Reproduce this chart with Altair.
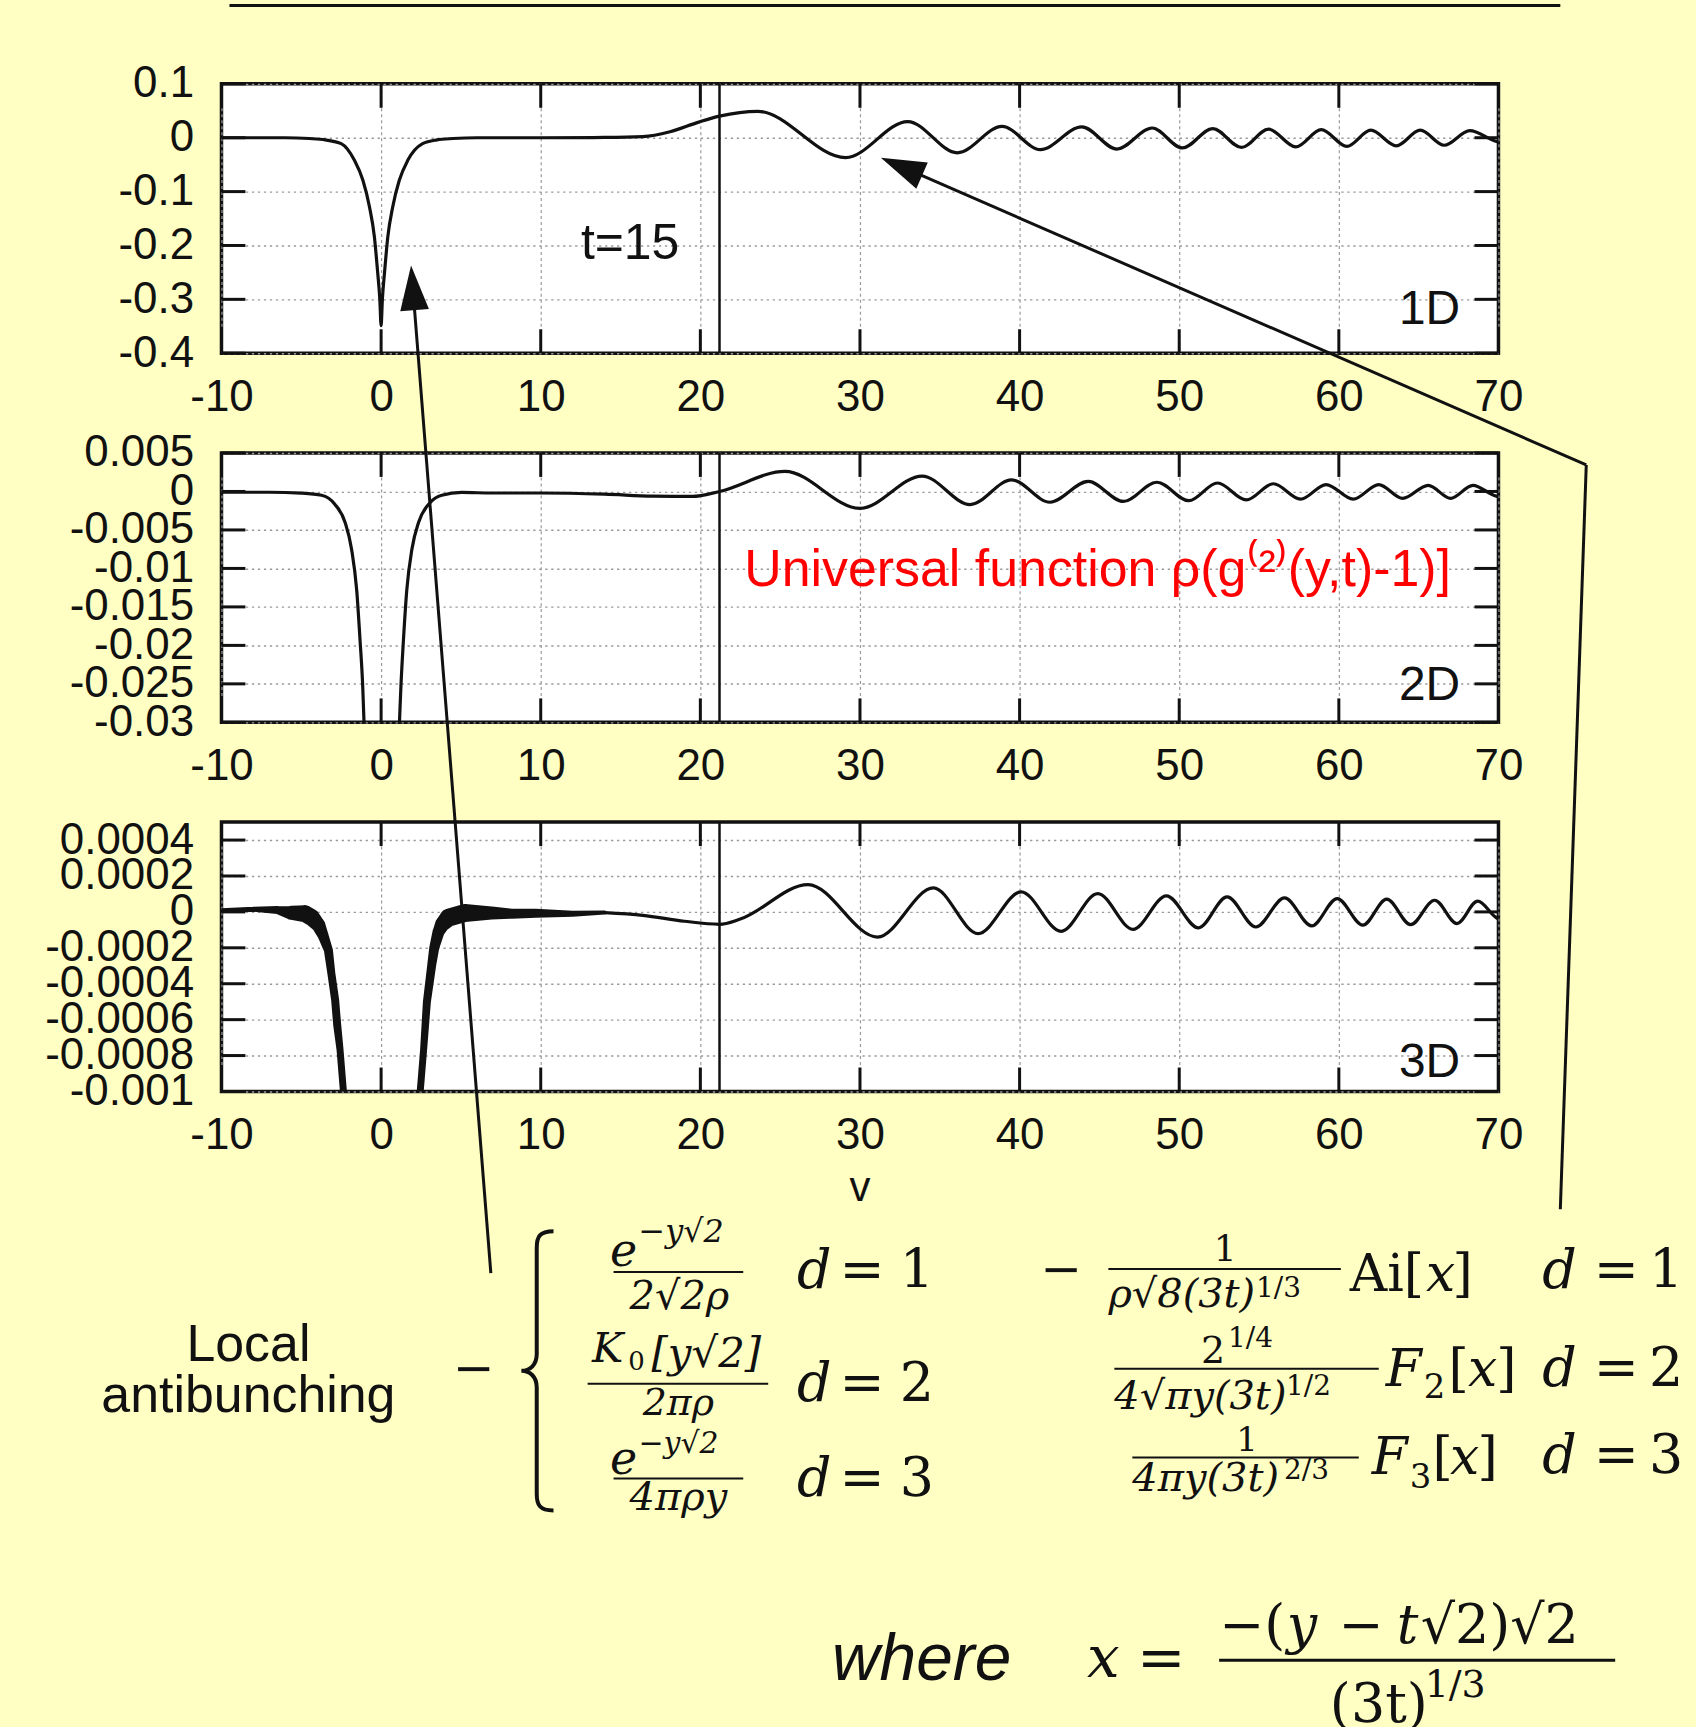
import altair as alt
import pandas as pd

BG = "#FFFFC4"
INK = "#111111"
SANS = "Liberation Sans"
SERIF = "DejaVu Serif"

PW, PH = 1280, 270          # plot area of each panel
P3X, P3Y = 220, 820         # page position of panel 3 (annotation origin)

X_TICKS = [-10, 0, 10, 20, 30, 40, 50, 60, 70]
X_DOMAIN = [-10, 70]
VLINE_X = 21.2

# ---------------- 1D ----------------
Y1_TICKS = [0.1, 0, -0.1, -0.2, -0.3, -0.4]
Y1_DOMAIN = [-0.4, 0.1]
X1 = [-10, -6, -4.5, -3.5, -2.5, -1.67, -1.14, -0.73, -0.42, -0.21, -0.08, 0, 0.08, 0.21, 0.42,
      0.73, 1.14, 1.67, 2.6, 3.5, 4.5, 6, 10, 14, 16.4, 18.1, 19.9, 21.2, 23.6, 29.1,
      33.0, 36.1, 38.9, 41.3, 43.9, 46.1, 48.3, 50.2, 52.1, 53.9, 55.6, 57.3, 58.9, 60.5, 62.0,
      63.6, 65.1, 66.6, 68.2, 69.7, 70]
V1 = [0, 0, -0.0015, -0.004, -0.011, -0.042, -0.079, -0.128, -0.184, -0.252, -0.30, -0.349, -0.30, -0.252, -0.184,
      -0.128, -0.079, -0.042, -0.011, -0.004, -0.0015, 0, 0, 0.0005, 0.002, 0.011, 0.029, 0.040, 0.049, -0.037,
      0.030, -0.028, 0.021, -0.022, 0.020, -0.021, 0.018, -0.019, 0.017, -0.018, 0.016, -0.017, 0.015, -0.016, 0.014,
      -0.015, 0.014, -0.014, 0.013, -0.005, -0.008]

# ---------------- 2D ----------------
Y2_TICKS = [0.005, 0, -0.005, -0.01, -0.015, -0.02, -0.025, -0.03]
Y2_DOMAIN = [-0.03, 0.005]
X2L = [-10, -7, -5, -3.73, -2.9, -2.26, -1.85, -1.53, -1.32, -1.15, -1.07, -0.95]
V2L = [-0.0001, -0.0001, -0.00022, -0.0005, -0.00166, -0.0040, -0.0075, -0.0128, -0.0193, -0.0254, -0.0300, -0.040]
X2R = [0.95, 1.15, 1.24, 1.40, 1.61, 1.93, 2.35, 3.08, 3.8, 5.05, 7, 10, 14, 17, 19.5,
       21.2, 25.3, 30.0, 33.9, 36.9, 39.5, 41.9, 44.3, 46.5, 48.6, 50.6, 52.4, 54.2, 55.9, 57.6,
       59.2, 60.9, 62.5, 64.0, 65.6, 67.0, 68.4, 69.7, 70]
V2R = [-0.040, -0.0300, -0.0254, -0.0193, -0.0128, -0.0075, -0.0040, -0.00144, -0.0005, -0.00013, -0.0002, -0.0002, -0.00035, -0.0006, -0.00065,
       0, 0.0026, -0.0022, 0.0020, -0.0017, 0.0015, -0.0014, 0.0013, -0.0013, 0.0012, -0.0012, 0.0011, -0.0011, 0.0010, -0.0010,
       0.0009, -0.0010, 0.0009, -0.0009, 0.0008, -0.0009, 0.0008, -0.0005, -0.0007]

# ---------------- 3D ----------------
Y3_TICKS = [0.0004, 0.0002, 0, -0.0002, -0.0004, -0.0006, -0.0008, -0.001]
Y3_DOMAIN = [-0.001, 0.0005]
# noisy band near the dip (value, band width in px)
X3L = [-10, -8, -6.5, -5.63, -4.77, -4.37, -3.93, -3.64, -3.3, -3.12, -2.88, -2.75, -2.57, -2.36, -2.2]
V3L = [0.000009, 0.000015, 0.00001, -0.000005, -0.00001, -0.00003, -0.0000725, -0.00013, -0.000214, -0.00034,
       -0.00049, -0.00063, -0.00077, -0.00100, -0.0012]
W3L = [4, 5, 8, 14, 17, 17, 14, 11, 9, 8, 8, 8, 7, 7, 7]
X3R = [2.2, 2.45, 2.66, 2.87, 3.18, 3.33, 3.6, 3.85, 4.23, 5.27, 6.94, 8.19, 9.7, 12, 14]
V3R = [-0.0012, -0.0010, -0.00077, -0.0005, -0.00029, -0.0002, -0.00011, -0.000067, -0.000032, -0.000006,
       -0.000006, -0.00001, -0.000008, -0.00001, -0.000004]
W3R = [7, 7, 7, 8, 9, 10, 12, 15, 18, 18, 13, 10, 9, 6, 4]
X3O = [14, 16.4, 19, 21.2, 22.5, 26.75, 31.1, 34.6, 37.4, 40.1, 42.6, 44.9, 47.1, 49.2, 51.2,
       53.0, 54.8, 56.6, 58.3, 59.9, 61.5, 63.0, 64.5, 66.0, 67.4, 68.7, 69.8, 70]
V3O = [-0.000004, -0.000019, -0.000052, -0.000069, -0.00004, 0.000152, -0.00014, 0.000134, -0.000121, 0.000112,
       -0.000108, 0.000102, -0.000097, 0.000089, -0.000089, 0.000084, -0.000084, 0.000078, -0.000078, 0.000074,
       -0.000074, 0.000071, -0.000071, 0.000065, -0.000065, 0.00006, -0.000028, -0.00004]

# ---------------- in-panel labels (data coordinates) ----------------
LBL1 = [("t=15", 15.6, -0.225, 50, "center", INK), ("1D", 67.6, -0.346, 48, "right", INK)]
LBL2 = [("2D", 67.6, -0.0271, 48, "right", INK),
        ("Universal function ρ(g⁽²⁾(y,t)-1)]", 22.75, -0.01224, 52, "left", "#ff0000")]
LBL3 = [("3D", 67.6, -0.000917, 48, "right", INK)]

# ---------------- page annotations (page pixel coordinates) ----------------
N, I = "normal", "italic"
TEXTS = [
    ("v", 860, 1200, 42, SANS, N, "center"),
    ("Local", 247, 1360, 52, SANS, N, "center"),
    ("antibunching", 247, 1411, 52, SANS, N, "center"),
    ("where", 832, 1680, 66, SANS, I, "left"),
    # left block
    ("−", 473, 1384, 50, SERIF, N, "center"),
    ("e", 623, 1265, 46, SERIF, I, "center"),
    ("−y√2", 638, 1241, 32, SERIF, I, "left"),
    ("2√2ρ", 679, 1308, 40, SERIF, I, "center"),
    ("K", 607, 1361, 42, SERIF, I, "center"),
    ("0", 636, 1369, 26, SERIF, N, "center"),
    ("[y√2]", 706, 1366, 42, SERIF, I, "center"),
    ("2πρ", 678, 1414, 38, SERIF, I, "center"),
    ("e", 623, 1473, 46, SERIF, I, "center"),
    ("−y√2", 638, 1452, 30, SERIF, I, "left"),
    ("4πρy", 678, 1510, 40, SERIF, I, "center"),
    ("d", 797, 1287, 54, SERIF, I, "left"), ("=", 862, 1287, 54, SERIF, N, "center"), ("1", 917, 1287, 54, SERIF, N, "center"),
    ("d", 797, 1400, 54, SERIF, I, "left"), ("=", 862, 1400, 54, SERIF, N, "center"), ("2", 917, 1400, 54, SERIF, N, "center"),
    ("d", 797, 1495, 54, SERIF, I, "left"), ("=", 862, 1495, 54, SERIF, N, "center"), ("3", 917, 1495, 54, SERIF, N, "center"),
    # right block, row 1
    ("−", 1062, 1285, 50, SERIF, N, "center"),
    ("1", 1226, 1260, 36, SERIF, N, "center"),
    ("ρ√8(3t)", 1109, 1306, 40, SERIF, I, "left"),
    ("1/3", 1257, 1296, 28, SERIF, N, "left"),
    ("Ai[", 1351, 1290, 52, SERIF, N, "left"),
    ("x", 1442, 1290, 52, SERIF, I, "center"),
    ("]", 1464, 1290, 52, SERIF, N, "center"),
    # row 2
    ("2", 1214, 1362, 38, SERIF, N, "center"),
    ("1/4", 1229, 1346, 28, SERIF, N, "left"),
    ("4√πy(3t)", 1115, 1408, 40, SERIF, I, "left"),
    ("1/2", 1287, 1394, 28, SERIF, N, "left"),
    ("F", 1405, 1385, 52, SERIF, I, "center"),
    ("2", 1436, 1397, 34, SERIF, N, "center"),
    ("[", 1460, 1385, 52, SERIF, N, "center"),
    ("x", 1484, 1385, 52, SERIF, I, "center"),
    ("]", 1508, 1385, 52, SERIF, N, "center"),
    # row 3
    ("1", 1248, 1450, 34, SERIF, N, "center"),
    ("4πy(3t)", 1133, 1490, 40, SERIF, I, "left"),
    ("2/3", 1285, 1478, 28, SERIF, N, "left"),
    ("F", 1391, 1473, 52, SERIF, I, "center"),
    ("3", 1422, 1487, 34, SERIF, N, "center"),
    ("[", 1444, 1473, 52, SERIF, N, "center"),
    ("x", 1466, 1473, 52, SERIF, I, "center"),
    ("]", 1489, 1473, 52, SERIF, N, "center"),
    ("d", 1544, 1287, 54, SERIF, I, "left"), ("=", 1618, 1287, 54, SERIF, N, "center"), ("1", 1668, 1287, 54, SERIF, N, "center"),
    ("d", 1544, 1385, 54, SERIF, I, "left"), ("=", 1618, 1385, 54, SERIF, N, "center"), ("2", 1668, 1385, 54, SERIF, N, "center"),
    ("d", 1544, 1472, 54, SERIF, I, "left"), ("=", 1618, 1472, 54, SERIF, N, "center"), ("3", 1668, 1472, 54, SERIF, N, "center"),
    # x = ...
    ("x", 1104, 1677, 58, SERIF, I, "center"),
    ("=", 1162, 1677, 58, SERIF, N, "center"),
    ("−(", 1220, 1643, 54, SERIF, N, "left"),
    ("y", 1303, 1643, 54, SERIF, I, "center"),
    ("−", 1362, 1643, 54, SERIF, N, "center"),
    ("t", 1409, 1643, 54, SERIF, I, "center"),
    ("√2)√2", 1422, 1643, 54, SERIF, N, "left"),
    ("(3t)", 1331, 1722, 54, SERIF, N, "left"),
    ("1/3", 1426, 1697, 38, SERIF, N, "left"),
]
# straight strokes: fraction bars, top line, arrow shafts (x1, y1, x2, y2, width)
STROKES = [
    (613, 1271, 743, 1271, 2), (587, 1383, 768, 1383, 2), (613, 1478, 743, 1478, 2),
    (1109, 1268, 1342, 1268, 2), (1115, 1368, 1380, 1368, 2), (1133, 1457, 1360, 1457, 2),
    (1220, 1660, 1617, 1660, 3),
    (228, 1.5, 1562, 1.5, 3),
    (490, 1272, 411.8, 284.4, 3),
    (1562, 1208, 1588, 462, 3), (1588, 462, 901.6, 163, 3),
]
# arrow heads (centre x, centre y, rotation)
HEADS = [(411.8, 284.4, 355.5), (901.6, 163.0, 293.5)]
BRACE = (536, 1370)


def axis_x():
    return alt.Axis(values=X_TICKS, labelExpr="toString(datum.value)", grid=True, gridDash=[3, 3],
                    gridColor="#9a9a9a", gridWidth=1.2, ticks=False, tickSize=0, domain=False,
                    labelPadding=22, labelFontSize=44, labelFont=SANS, labelColor=INK,
                    labelFlush=False, labelOverlap=False, labelBound=False, title=None)


def axis_y(vals):
    return alt.Axis(values=vals, labelExpr="toString(datum.value)", grid=True, gridDash=[2.3, 3.7],
                    gridColor="#9a9a9a", gridWidth=1.4, ticks=False, tickSize=0, domain=False,
                    labelPadding=28, labelFontSize=44, labelFont=SANS, labelColor=INK,
                    labelFlush=False, labelOverlap=False, labelBound=False, title=None)


XS = alt.Scale(domain=X_DOMAIN, nice=False, zero=False)


def X(field):
    return alt.X(field, scale=XS, axis=axis_x())


def Y(field, ydom, yticks):
    return alt.Y(field, scale=alt.Scale(domain=ydom, nice=False, zero=False), axis=axis_y(yticks))


def frame_layers(ydom, yticks):
    xt = pd.DataFrame({"t": X_TICKS})
    yt = pd.DataFrame({"t": yticks})
    r = dict(color=INK, strokeWidth=3)
    return [
        alt.Chart(xt).mark_rule(**r).encode(x=X("t:Q"), y=alt.value(PH), y2=alt.value(PH - 24)),
        alt.Chart(xt).mark_rule(**r).encode(x=X("t:Q"), y=alt.value(0), y2=alt.value(24)),
        alt.Chart(yt).mark_rule(**r).encode(y=Y("t:Q", ydom, yticks), x=alt.value(0), x2=alt.value(24)),
        alt.Chart(yt).mark_rule(**r).encode(y=Y("t:Q", ydom, yticks), x=alt.value(PW), x2=alt.value(PW - 24)),
        alt.Chart(pd.DataFrame({"x": [VLINE_X]})).mark_rule(color=INK, strokeWidth=2.5).encode(x=X("x:Q")),
    ]


def label_layers(lbls, ydom, yticks):
    out = []
    for txt, x, v, fs, al, col in lbls:
        out.append(alt.Chart(pd.DataFrame({"x": [x], "v": [v], "txt": [txt]})).mark_text(
            align=al, baseline="alphabetic", fontSize=fs, font=SANS, color=col).encode(
            x=X("x:Q"), y=Y("v:Q", ydom, yticks), text="txt:N"))
    return out


def curve_df(pairs):
    rows = []
    for seg, xs, vs in pairs:
        rows += [{"seg": seg, "x": a, "v": b} for a, b in zip(xs, vs)]
    return pd.DataFrame(rows)


def main_line(df, ydom, yticks):
    return alt.Chart(df).mark_line(interpolate="monotone", clip=True, color=INK, strokeWidth=3.2).encode(
        x=X("x:Q"), y=Y("v:Q", ydom, yticks), detail="seg:N")


# panel 1
p1 = alt.layer(main_line(curve_df([("a", X1, V1)]), Y1_DOMAIN, Y1_TICKS),
               *frame_layers(Y1_DOMAIN, Y1_TICKS),
               *label_layers(LBL1, Y1_DOMAIN, Y1_TICKS)).properties(width=PW, height=PH)

# panel 2
p2 = alt.layer(main_line(curve_df([("L", X2L, V2L), ("R", X2R, V2R)]), Y2_DOMAIN, Y2_TICKS),
               *frame_layers(Y2_DOMAIN, Y2_TICKS),
               *label_layers(LBL2, Y2_DOMAIN, Y2_TICKS)).properties(width=PW, height=PH)

# panel 3
trail_rows = []
for seg, xx, vv, ww in [("L", X3L, V3L, W3L), ("R", X3R, V3R, W3R)]:
    trail_rows += [{"seg": seg, "x": a, "v": b, "w": c} for a, b, c in zip(xx, vv, ww)]
trail = alt.Chart(pd.DataFrame(trail_rows)).mark_trail(clip=True, color=INK).encode(
    x=X("x:Q"), y=Y("v:Q", Y3_DOMAIN, Y3_TICKS),
    size=alt.Size("w:Q", scale=None, legend=None), detail="seg:N")


def pix_text_layers(items):
    groups = {}
    for t, x, y, s, fam, sty, al in items:
        groups.setdefault((fam, sty, al), []).append(
            {"txt": t, "px": x - P3X, "py": y - P3Y, "fs": s})
    layers = []
    for (fam, sty, al), rows in groups.items():
        layers.append(alt.Chart(pd.DataFrame(rows)).mark_text(
            font=fam, fontStyle=sty, align=al, baseline="alphabetic", color=INK).encode(
            x=alt.X("px:Q", scale=None), y=alt.Y("py:Q", scale=None),
            text="txt:N", size=alt.Size("fs:Q", scale=None, legend=None)))
    return layers


strokes = alt.Chart(pd.DataFrame([{"x1": a - P3X, "y1": b - P3Y, "x2": c - P3X, "y2": d - P3Y, "w": w}
                                  for a, b, c, d, w in STROKES])).mark_rule(color=INK).encode(
    x=alt.X("x1:Q", scale=None), y=alt.Y("y1:Q", scale=None),
    x2="x2:Q", y2="y2:Q", strokeWidth=alt.StrokeWidth("w:Q", scale=None, legend=None))

heads = alt.Chart(pd.DataFrame([{"px": a - P3X, "py": b - P3Y, "ang": c} for a, b, c in HEADS])).mark_point(
    shape="M0,-1L0.64,1L-0.64,1Z", filled=True, size=2025, color=INK, opacity=1).encode(
    x=alt.X("px:Q", scale=None), y=alt.Y("py:Q", scale=None),
    angle=alt.Angle("ang:Q", scale=None))

brace = alt.Chart(pd.DataFrame([{"px": BRACE[0] - P3X, "py": BRACE[1] - P3Y}])).mark_point(
    shape="M0.12,-1C0.02,-1 0,-0.96 0,-0.88L0,-0.12C0,-0.04 -0.05,0 -0.11,0C-0.05,0 0,0.04 0,0.12L0,0.88C0,0.96 0.02,1 0.12,1",
    filled=False, size=78400, color=INK, strokeWidth=4, opacity=1).encode(
    x=alt.X("px:Q", scale=None), y=alt.Y("py:Q", scale=None))

# corner markers in background colour fixing the page extent 1696 x 1727
corners = alt.Chart(pd.DataFrame([
    {"x1": -219.5, "y1": -819.5, "x2": -218, "y2": -819.5},
    {"x1": 1474, "y1": 906.5, "x2": 1475.5, "y2": 906.5}])).mark_rule(color=BG, strokeWidth=1).encode(
    x=alt.X("x1:Q", scale=None), y=alt.Y("y1:Q", scale=None), x2="x2:Q", y2="y2:Q")

p3 = alt.layer(main_line(curve_df([("O", X3O, V3O)]), Y3_DOMAIN, Y3_TICKS), trail,
               *frame_layers(Y3_DOMAIN, Y3_TICKS), *label_layers(LBL3, Y3_DOMAIN, Y3_TICKS),
               corners, strokes, heads, brace, *pix_text_layers(TEXTS)).properties(width=PW, height=PH)

chart = alt.vconcat(p1, p2, p3, spacing=100, bounds="flush").properties(
    background=BG, padding=0).configure_view(stroke=INK, strokeWidth=3.5, fill="white")

chart.save("out.html", embed_options={"renderer": "svg", "actions": False})
